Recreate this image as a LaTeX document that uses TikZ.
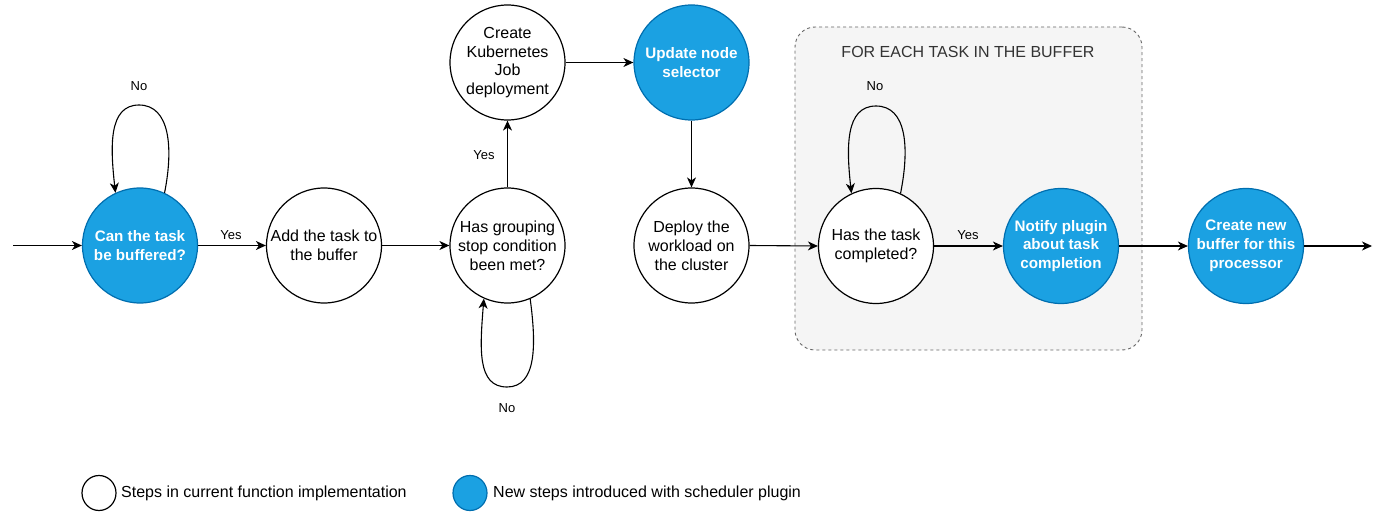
\documentclass[tikz,border=0pt]{standalone}
\usepackage{fontspec}
\setmainfont{Liberation Sans}
\usetikzlibrary{arrows.meta,calc,shapes.geometric}
\definecolor{bluefill}{HTML}{1BA1E2}
\definecolor{bluestroke}{HTML}{006EAF}
\definecolor{grpfill}{HTML}{F5F5F5}
\definecolor{grpline}{HTML}{666666}
\definecolor{grptext}{HTML}{333333}
\begin{document}
\begin{tikzpicture}[x=1pt,y=-1pt,
  state/.style={circle, draw=black, fill=white, line width=1.2pt, minimum size=115pt, inner sep=0pt,
    align=center, font=\fontsize{16}{18.8}\selectfont},
  bstate/.style={state, fill=bluefill, draw=bluestroke, text=white, font=\fontsize{15.2}{18.8}\selectfont\bfseries},
  arr/.style={-{Stealth[length=10pt,width=9pt,inset=3pt]}, line width=1.1pt},
  lbl/.style={font=\fontsize{13}{15}\selectfont, inner sep=1pt},
  legtxt/.style={font=\fontsize{16}{19}\selectfont, anchor=west, inner sep=0pt},
  grpbox/.style={draw=grpline, dash pattern=on 3pt off 3pt, fill=grpfill, rounded corners=20pt, line width=0.9pt}
]
\useasboundingbox (0,0) rectangle (1387,519);

% group box
\node[grpbox, minimum width=347pt, minimum height=323pt, inner sep=0pt] (grp) at (968.5,188.5) {};
\node[font=\fontsize{16}{19}\selectfont, text=grptext] (glabel) at (968,52) {FOR EACH TASK IN THE BUFFER};

% nodes
\node[bstate] (n1) at (140,245.5) {Can the task\\be buffered?};
\node[state]  (n2) at (324,245.5) {Add the task to\\the buffer};
\node[state]  (n3) at (507.5,245.5) {Has grouping\\stop condition\\been met?};
\node[state]  (n4) at (507.5,62.5) {Create\\Kubernetes\\Job\\deployment};
\node[bstate] (n5) at (691.5,62.5) {Update node\\selector};
\node[state]  (n6) at (691.5,245.5) {Deploy the\\workload on\\the cluster};
\node[state]  (n7) at (876,246) {Has the task\\completed?};
\node[bstate] (n8) at (1061,246) {Notify plugin\\about task\\completion};
\node[bstate] (n9) at (1246,246) {Create new\\buffer for this\\processor};

\coordinate (start) at (13,245.5);
\coordinate (finish) at (1372,246);
\coordinate (l1) at (139,105);
\coordinate (l3) at (507,387);
\coordinate (l7) at (876,106);

% edges
\draw[arr] (start) -- (n1);
\draw[arr] (n1) -- (n2);
\draw[arr] (n2) -- (n3);
\draw[arr] (n3) -- (n4);
\draw[arr] (n4) -- (n5);
\draw[arr] (n5) -- (n6);
\draw[arr] (n6.east) -- (n7.west);
\draw[arr] (n7) -- (n8);
\draw[arr] (n8) -- (n9);
\draw[arr] (n9) -- (finish);

% self loops
\draw[arr] (n1.65) .. controls +(9,-45) and +(31,0) .. (l1) .. controls +(-31,0) and +(-5,-45) .. (n1.115);
\draw[arr] (n3.-67) .. controls +(6,45) and +(30,0) .. (l3) .. controls +(-30,0) and +(-4,50) .. (n3.-114);
\draw[arr] (n7.65) .. controls +(9,-45) and +(31,0) .. (l7) .. controls +(-31,0) and +(-5,-45) .. (n7.115);

% labels
\node[lbl] (y1) at (231,235) {Yes};
\node[lbl] (y2) at (484,155) {Yes};
\node[lbl] (y3) at (968,235) {Yes};
\node[lbl] (no1) at (139,86) {No};
\node[lbl] (no3) at (507,408) {No};
\node[lbl] (no7) at (875,86) {No};

% legend
\node[ellipse, draw=black, fill=white, line width=1.2pt, minimum width=34pt, minimum height=35pt, inner sep=0pt] (lw) at (99,493) {};
\node[legtxt] (lwt) at (121,493) {Steps in current function implementation};
\node[ellipse, draw=bluestroke, fill=bluefill, line width=1.2pt, minimum width=34pt, minimum height=35pt, inner sep=0pt] (lb) at (470,493) {};
\node[legtxt] (lbt) at (493,493) {New steps introduced with scheduler plugin};
\end{tikzpicture}
\end{document}
